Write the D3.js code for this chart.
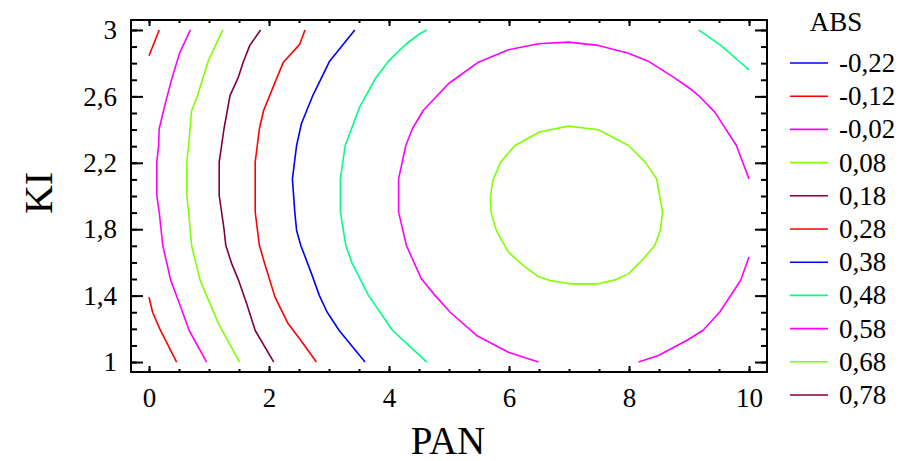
<!DOCTYPE html>
<html>
<head>
<meta charset="utf-8">
<script src="https://cdn.jsdelivr.net/npm/d3@7"></script>
<style>
  html, body { margin: 0; padding: 0; background: #fff; }
  svg { display: block; font-family: "Liberation Serif", "Times New Roman", serif; }
</style>
</head>
<body>
<svg id="chart" width="902" height="461"></svg>
<script>
// Contour levels of ABS and their line colours (legend order)
const levels = [-0.22, -0.12, -0.02, 0.08, 0.18, 0.28, 0.38, 0.48, 0.58, 0.68, 0.78];
const levelColors = ["#0000ff", "#ff0000", "#ff00ff", "#80ff00", "#800040",
                     "#ff0000", "#0000ff", "#00ff80", "#ff00ff", "#80ff00", "#800040"];

// Axis ticks
const xMajorTicks = [0, 2, 4, 6, 8, 10];
const xMinorTicks = [0, 0.5, 1, 1.5, 2, 2.5, 3, 3.5, 4, 4.5, 5, 5.5, 6, 6.5, 7, 7.5, 8, 8.5, 9, 9.5, 10];
const yMajorTicks = [1, 1.4, 1.8, 2.2, 2.6, 3];
const yMinorTicks = [1, 1.1, 1.2, 1.3, 1.4, 1.5, 1.6, 1.7, 1.8, 1.9, 2, 2.1, 2.2, 2.3, 2.4, 2.5, 2.6, 2.7, 2.8, 2.9, 3];

// Contour polylines, points as [PAN, KI]
const lvlM012Top = [[0, 2.845], [0.17, 3]];
const lvlM012Bottom = [[0, 1.39], [0.06, 1.3], [0.18, 1.2], [0.46, 1]];
const lvlM002 = [[0.69, 3], [0.51, 2.86], [0.38, 2.706], [0.27, 2.555], [0.17, 2.405], [0.16, 2.304],
  [0.13, 2.204], [0.13, 2.003], [0.17, 1.903], [0.23, 1.702], [0.36, 1.495], [0.51, 1.35], [0.67, 1.19], [0.96, 1]];
const lvl008 = [[1.23, 3], [0.99, 2.816], [0.81, 2.605], [0.71, 2.515], [0.66, 2.304], [0.63, 2.204],
  [0.63, 2.003], [0.66, 1.903], [0.71, 1.702], [0.85, 1.495], [0.97, 1.391], [1.16, 1.23], [1.51, 1]];
const lvl018 = [[1.86, 3], [1.68, 2.907], [1.57, 2.806], [1.49, 2.716], [1.35, 2.605], [1.25, 2.405],
  [1.17, 2.204], [1.17, 2.003], [1.25, 1.802], [1.28, 1.702], [1.38, 1.591], [1.49, 1.495], [1.63, 1.35],
  [1.77, 1.19], [2.08, 1]];
const lvl028 = [[2.6, 3], [2.51, 2.913], [2.24, 2.806], [2.08, 2.666], [1.91, 2.515], [1.84, 2.405],
  [1.77, 2.204], [1.77, 1.903], [1.84, 1.702], [1.93, 1.591], [2.1, 1.391], [2.32, 1.23], [2.51, 1.14], [2.79, 1]];
const lvl038 = [[3.43, 3], [3.01, 2.812], [2.73, 2.605], [2.54, 2.435], [2.46, 2.304], [2.39, 2.103],
  [2.43, 1.903], [2.46, 1.792], [2.53, 1.702], [2.71, 1.531], [2.84, 1.4], [2.97, 1.3], [3.17, 1.19], [3.6, 1]];
const lvl048Left = [[4.63, 3], [4.51, 2.977], [4.29, 2.917], [3.99, 2.812], [3.77, 2.706], [3.51, 2.535],
  [3.27, 2.304], [3.19, 2.103], [3.19, 1.903], [3.28, 1.702], [3.39, 1.591], [3.66, 1.4], [4.06, 1.19],
  [4.51, 1.04], [4.63, 1]];
const lvl048Right = [[9.16, 3], [9.53, 2.907], [9.82, 2.816], [10, 2.76]];
const lvl058Arc = [[6.49, 1], [5.99, 1.059], [5.46, 1.16], [5.02, 1.3], [4.77, 1.4], [4.54, 1.501],
  [4.29, 1.702], [4.16, 1.903], [4.16, 2.103], [4.28, 2.304], [4.39, 2.405], [4.57, 2.515], [4.99, 2.676],
  [5.49, 2.806], [5.99, 2.881], [6.49, 2.917], [6.99, 2.927], [7.49, 2.907], [7.99, 2.86], [8.32, 2.812],
  [8.74, 2.716], [9.02, 2.646], [9.16, 2.605], [9.43, 2.505], [9.79, 2.304], [10, 2.103]];
const lvl058Corner = [[8.16, 1], [8.49, 1.039], [8.96, 1.13], [9.23, 1.19], [9.51, 1.3], [9.86, 1.491], [10, 1.632]];
const lvl068 = [[6.99, 2.421], [7.49, 2.399], [7.99, 2.304], [8.27, 2.204], [8.46, 2.103], [8.51, 2.003],
  [8.56, 1.903], [8.52, 1.792], [8.43, 1.702], [8.24, 1.622], [7.99, 1.531], [7.77, 1.495], [7.49, 1.471],
  [7.01, 1.471], [6.68, 1.491], [6.49, 1.515], [6.24, 1.581], [5.99, 1.662], [5.79, 1.792], [5.7, 1.903],
  [5.69, 1.993], [5.73, 2.093], [5.86, 2.204], [6.1, 2.304], [6.51, 2.385], [6.99, 2.421]];

const contourLines = [
  { level: -0.12, points: lvlM012Top },
  { level: -0.12, points: lvlM012Bottom },
  { level: -0.02, points: lvlM002 },
  { level: 0.08, points: lvl008 },
  { level: 0.18, points: lvl018 },
  { level: 0.28, points: lvl028 },
  { level: 0.38, points: lvl038 },
  { level: 0.48, points: lvl048Left },
  { level: 0.48, points: lvl048Right },
  { level: 0.58, points: lvl058Arc },
  { level: 0.58, points: lvl058Corner },
  { level: 0.68, points: lvl068 }
];

const svg = d3.select("#chart");
const plotLeft = 131, plotRight = 767, plotTop = 20, plotBottom = 372;

const x = d3.scaleLinear().domain([-0.3, 10.3]).range([plotLeft, plotRight]);
const y = d3.scaleLinear().domain([0.94, 3.06]).range([plotBottom, plotTop]);

const color = d3.scaleOrdinal().domain(levels).range(levelColors);
// Decimal comma, plain hyphen for negatives
const locale = d3.formatLocale({ decimal: ",", thousands: ".", grouping: [3], currency: ["", ""], minus: "-" });
const fmtTick = locale.format("~g");
const fmtLevel = locale.format(".2f");

// Contour lines
const line = d3.line().x(d => x(d[0])).y(d => y(d[1]));
svg.append("g")
  .selectAll("path")
  .data(contourLines)
  .join("path")
  .attr("d", d => line(d.points))
  .attr("fill", "none")
  .attr("stroke", d => color(d.level))
  .attr("stroke-width", 1.6)
  .attr("stroke-linejoin", "round");

// Axes with inward ticks on all four sides
function styleAxis(g) {
  g.select(".domain").remove();
  g.selectAll(".tick line").attr("stroke", "#000").attr("stroke-width", 2);
  g.selectAll(".tick text")
    .attr("fill", "#000")
    .style("font-family", "'Liberation Serif', 'Times New Roman', serif")
    .style("font-size", "27px");
}

svg.append("g").attr("transform", `translate(0,${plotBottom})`)
  .call(d3.axisBottom(x).tickValues(xMinorTicks).tickSize(-3).tickFormat(""))
  .call(styleAxis);
svg.append("g").attr("transform", `translate(0,${plotBottom})`)
  .call(d3.axisBottom(x).tickValues(xMajorTicks).tickSize(-6).tickPadding(16).tickFormat(fmtTick))
  .call(styleAxis);
svg.append("g").attr("transform", `translate(0,${plotTop})`)
  .call(d3.axisTop(x).tickValues(xMinorTicks).tickSize(-3).tickFormat(""))
  .call(styleAxis);
svg.append("g").attr("transform", `translate(0,${plotTop})`)
  .call(d3.axisTop(x).tickValues(xMajorTicks).tickSize(-6).tickFormat(""))
  .call(styleAxis);

svg.append("g").attr("transform", `translate(${plotLeft},0)`)
  .call(d3.axisLeft(y).tickValues(yMinorTicks).tickSize(-6).tickFormat(""))
  .call(styleAxis);
svg.append("g").attr("transform", `translate(${plotLeft},0)`)
  .call(d3.axisLeft(y).tickValues(yMajorTicks).tickSize(-12).tickPadding(14).tickFormat(fmtTick))
  .call(styleAxis);
svg.append("g").attr("transform", `translate(${plotRight},0)`)
  .call(d3.axisRight(y).tickValues(yMinorTicks).tickSize(-6).tickFormat(""))
  .call(styleAxis);
svg.append("g").attr("transform", `translate(${plotRight},0)`)
  .call(d3.axisRight(y).tickValues(yMajorTicks).tickSize(-12).tickFormat(""))
  .call(styleAxis);

// Frame
svg.append("rect")
  .attr("x", plotLeft).attr("y", plotTop)
  .attr("width", plotRight - plotLeft).attr("height", plotBottom - plotTop)
  .attr("fill", "none").attr("stroke", "#000").attr("stroke-width", 2);

// Axis titles
svg.append("text")
  .attr("x", (plotLeft + plotRight) / 2 - 1).attr("y", 454)
  .attr("text-anchor", "middle")
  .style("font-size", "39px")
  .text("PAN");
svg.append("text")
  .attr("transform", "translate(52,193) rotate(-90)")
  .attr("text-anchor", "middle")
  .style("font-size", "40px")
  .text("KI");

// Legend
const legend = svg.append("g");
legend.append("text")
  .attr("x", 836).attr("y", 31)
  .attr("text-anchor", "middle")
  .style("font-size", "27px")
  .text("ABS");
const rows = legend.selectAll("g.row")
  .data(levels)
  .join("g")
  .attr("class", "row")
  .attr("transform", (d, i) => `translate(0,${63 + i * 33.2})`);
rows.append("line")
  .attr("x1", 790).attr("x2", 828)
  .attr("stroke", d => color(d))
  .attr("stroke-width", 1.6);
rows.append("text")
  .attr("x", 839).attr("y", 9)
  .style("font-size", "27px")
  .text(d => fmtLevel(d));
</script>
</body>
</html>
